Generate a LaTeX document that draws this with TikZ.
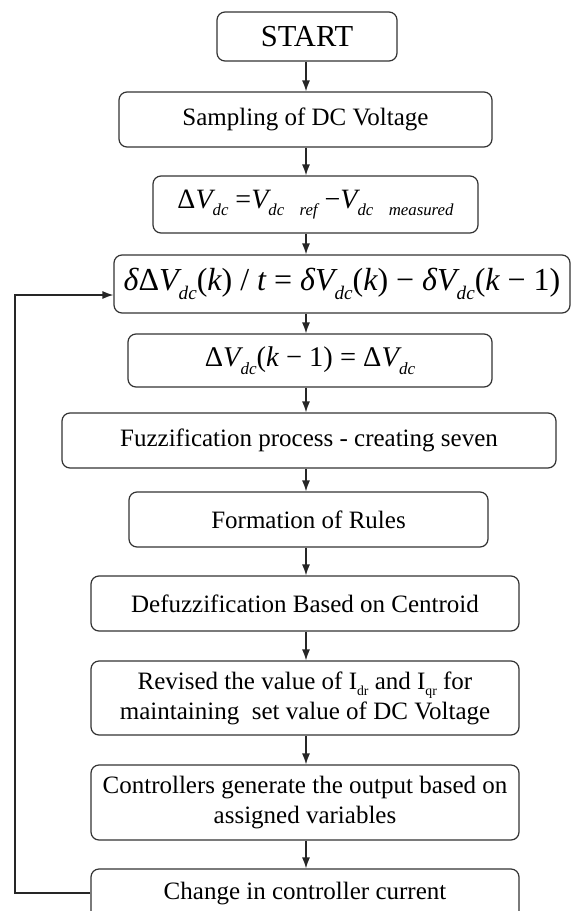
\documentclass[tikz,border=0pt]{standalone}
\usepackage{fontspec}
\usepackage{graphicx}
\setmainfont{Liberation Serif}
\usetikzlibrary{arrows.meta}
\newcommand\sbs[1]{\raisebox{-0.28em}{\scalebox{0.6}{\itshape #1}}}
\newcommand\sbu[1]{\raisebox{-0.25em}{\scalebox{0.55}{#1}}}
\newcommand\iv{{\itshape V}}
\begin{document}
\begin{tikzpicture}[x=1pt,y=-1pt,
  box/.style={draw=black!80, line width=1.2pt, rounded corners=8pt, inner sep=0pt, align=center,
    font=\fontsize{25}{30}\selectfont},
  arr/.style={draw=black!85, line width=1.3pt, -{Latex[length=11pt,width=8pt]}},
  fb/.style={draw=black!85, line width=1.3pt}]
\useasboundingbox (0,0) rectangle (571,911);
\fill[white] (0,0) rectangle (571,911);

\node[box, minimum width=180pt, minimum height=49pt, font=\fontsize{30.5}{34}\selectfont] (start) at (307,36.5) {START};
\node[box, minimum width=373pt, minimum height=55pt] (samp) at (305.5,119.5) {Sampling of DC Voltage};
\node[box, minimum width=325pt, minimum height=57pt, font=\fontsize{28}{32}\selectfont] (dv) at (315.5,204.5)
  {Δ\iv\sbs{dc} =\iv\sbs{dc\,\,\,\, ref} −\iv\sbs{dc\,\,\,\, measured}};
\node[box, minimum width=456pt, minimum height=58pt, font=\fontsize{32}{36}\selectfont] (ddv) at (342,284)
  {{\itshape δ}Δ\iv\sbs{dc}({\itshape k}) / {\itshape t} = {\itshape δ}\iv\sbs{dc}({\itshape k}) − {\itshape δ}\iv\sbs{dc}({\itshape k} − 1)};
\node[box, minimum width=364pt, minimum height=53pt, font=\fontsize{28.5}{32}\selectfont] (dvk) at (310,360.5)
  {Δ\iv\sbs{dc}({\itshape k} − 1) = Δ\iv\sbs{dc}};
\node[box, minimum width=494pt, minimum height=55pt] (fuzz) at (309,440.5) {Fuzzification process - creating seven};
\node[box, minimum width=359pt, minimum height=55pt] (rules) at (308.5,519.5) {Formation of Rules};
\node[box, minimum width=428pt, minimum height=55pt] (defuzz) at (305,603.5) {Defuzzification Based on Centroid};
\node[box, minimum width=428pt, minimum height=74pt] (rev) at (305,698)
  {Revised the value of I\sbu{dr} and I\sbu{qr} for\\maintaining\ \ set value of DC Voltage};
\node[box, minimum width=428pt, minimum height=75pt] (ctrl) at (305,802.5)
  {Controllers generate the output based on\\assigned variables};
\node[box, minimum width=428pt, minimum height=50pt] (chg) at (305,894) {Change in controller current};

\coordinate (ax) at (306,0);
\draw[arr] (start.south -| ax) -- (samp.north -| ax);
\draw[arr] (samp.south -| ax) -- (dv.north -| ax);
\draw[arr] (dv.south -| ax) -- (ddv.north -| ax);
\draw[arr] (ddv.south -| ax) -- (dvk.north -| ax);
\draw[arr] (dvk.south -| ax) -- (fuzz.north -| ax);
\draw[arr] (fuzz.south -| ax) -- (rules.north -| ax);
\draw[arr] (rules.south -| ax) -- (defuzz.north -| ax);
\draw[arr] (defuzz.south -| ax) -- (rev.north -| ax);
\draw[arr] (rev.south -| ax) -- (ctrl.north -| ax);
\draw[arr] (ctrl.south -| ax) -- (chg.north -| ax);

\coordinate (fbA) at (15,893);
\coordinate (fbB) at (15,295);
\draw[arr] (chg.west |- fbA) -- (fbA) -- (fbB) -- (ddv.west |- fbB);
\end{tikzpicture}
\end{document}
